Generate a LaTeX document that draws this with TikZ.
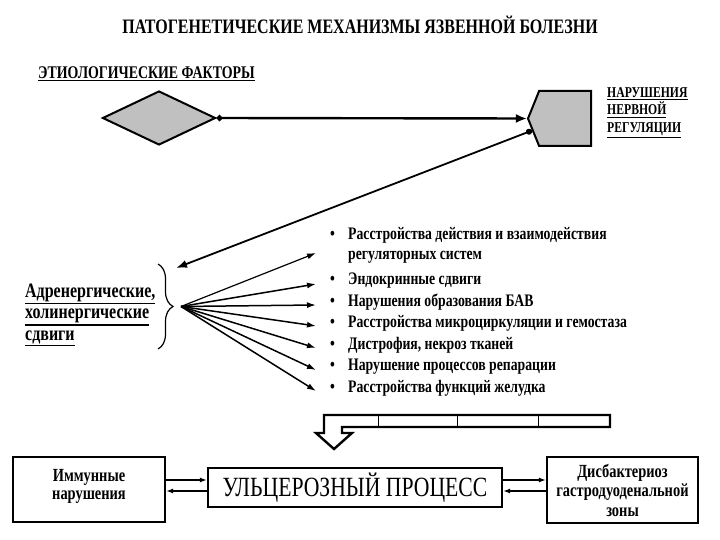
\documentclass[tikz,border=0pt]{standalone}
\usepackage{fontspec}
\setmainfont{Liberation Serif}[FakeStretch=0.78]
\usetikzlibrary{arrows.meta,shapes.geometric,shapes.symbols,decorations.pathreplacing,calc}
\definecolor{shade}{HTML}{C0C0C0}
\newcommand{\blt}{\hspace*{14pt}\makebox[18pt][l]{\textbullet}}
\newcommand{\uln}[1]{\leavevmode\vtop{\hbox{#1}\kern1.5pt\hrule height 1.4pt}}
\tikzset{every node/.style={font=\bfseries},
 frame/.style={draw,line width=2.2pt,align=center,inner sep=2pt},
 head/.style={anchor=west,inner sep=0pt,align=left},
 item/.style={anchor=west,inner sep=0pt,align=left,font=\bfseries\fontsize{17.6}{20}\selectfont},
 fan/.style={-{Latex[length=9pt,width=6pt]},line width=1.5pt},
 pair/.style={-{Latex[length=7pt,width=5pt]},line width=2pt}}
\begin{document}
\begin{tikzpicture}[x=1pt,y=-1pt]
\useasboundingbox (0,0) rectangle (720,540);
\node[font=\bfseries\fontsize{20.5}{24}\selectfont] (title) at (360,25) {ПАТОГЕНЕТИЧЕСКИЕ МЕХАНИЗМЫ ЯЗВЕННОЙ БОЛЕЗНИ};
\node[head,font=\bfseries\fontsize{17.8}{20}\selectfont] (etio) at (38,74) {\uln{ЭТИОЛОГИЧЕСКИЕ ФАКТОРЫ}};
\node[diamond,draw,fill=shade,line width=2pt,minimum width=113pt,minimum height=54pt,inner sep=0pt] (fac) at (159,118) {};
\node[signal,signal to=west,signal pointer angle=136,draw,fill=shade,line width=2pt,
 minimum width=63pt,minimum height=55pt,inner sep=0pt,anchor=east] (nerv) at (592,118.5) {};
\node[head,font=\bfseries\fontsize{15}{17.5}\selectfont] (nervtxt) at (607,113)
 {\uln{НАРУШЕНИЯ}\\\uln{НЕРВНОЙ}\\\uln{РЕГУЛЯЦИИ}};
\draw[line width=2.4pt,{Circle[length=6pt]}-{Latex[length=11pt,width=9pt]}] (fac.east) -- (nerv.west);

% brace and the shifts
\node[head,font=\bfseries\fontsize{20.5}{21.5}\selectfont] (adr) at (25,315)
 {\uln{Адренергические,}\\\uln{холинергические}\\\uln{сдвиги}};
\draw[decorate,decoration={brace,amplitude=15pt},line width=1.2pt] (158,264) -- (158,349);
\coordinate (brtop) at (176,268);
\coordinate (brtip) at (181,306.5);
\draw[line width=1.8pt,{Circle[length=6pt]}-{Latex[length=11pt,width=8pt]}] (nerv.200) -- (brtop);

\node[item] (r1) at (316,245) {\blt Расстройства действия и взаимодействия\\\hspace*{32pt}регуляторных систем};
\node[item] (r2) at (316,281) {\blt Эндокринные сдвиги};
\node[item] (r3) at (316,302) {\blt Нарушения образования БАВ};
\node[item] (r4) at (316,323) {\blt Расстройства микроциркуляции и гемостаза};
\node[item] (r5) at (316,345) {\blt Дистрофия, некроз тканей};
\node[item] (r6) at (316,367) {\blt Нарушение процессов репарации};
\node[item] (r7) at (316,388) {\blt Расстройства функций желудка};
\draw[fan,line width=1.2pt] (brtip) -- ([yshift=-8pt]r1.west);
\foreach \n in {2,...,7}
 \draw[fan] (brtip) -- ([yshift=-3pt]r\n.west);

% hollow arrow
\draw[line width=2.4pt] (324,433) -- (324,415) -- (610,415) -- (610,427) -- (342,427) -- (342,433)
 -- (352,433) -- (334,449) -- (316,433) -- cycle;
\foreach \x in {378,457,538}
 \draw[line width=1pt] (\x,415) -- (\x,427);

\node[frame,minimum width=152pt,minimum height=65pt,font=\bfseries\fontsize{18.5}{18}\selectfont] (imm) at (89,489.5)
 {Иммунные\\нарушения\\[-8pt]\mbox{}};
\node[frame,minimum width=294pt,minimum height=39pt,font=\mdseries\fontsize{27.8}{28}\selectfont] (ulc) at (355,487.5)
 {УЛЬЦЕРОЗНЫЙ ПРОЦЕСС};
\node[frame,minimum width=151pt,minimum height=66pt,font=\bfseries\fontsize{18.5}{19.5}\selectfont] (dys) at (622.5,490)
 {Дисбактериоз\\гастродуоденальной\\зоны};
\draw[pair] ([yshift=7.5pt]ulc.west -| imm.east) -- ([yshift=7.5pt]ulc.west);
\draw[pair] ([yshift=-3.5pt]ulc.west) -- ([yshift=-3.5pt]ulc.west -| imm.east);
\draw[pair] ([yshift=7.5pt]ulc.east) -- ([yshift=7.5pt]ulc.east -| dys.west);
\draw[pair] ([yshift=-3.5pt]ulc.east -| dys.west) -- ([yshift=-3.5pt]ulc.east);
\end{tikzpicture}
\end{document}
